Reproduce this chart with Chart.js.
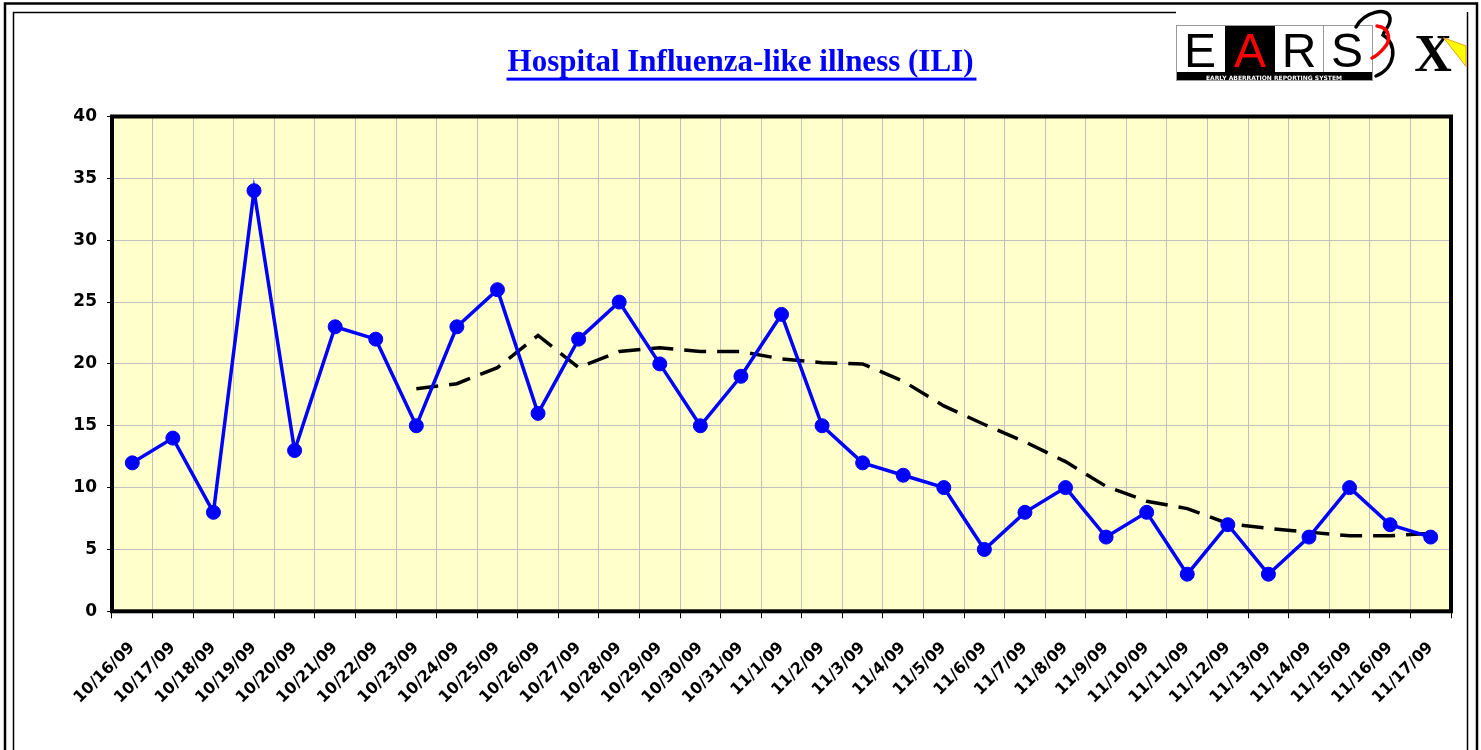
<!DOCTYPE html>
<html>
<head>
<meta charset="utf-8">
<script src="https://cdn.jsdelivr.net/npm/chart.js@4"></script>
<style>
  body { margin: 0; background: #fff; }
  canvas { display: block; }
</style>
</head>
<body>
<canvas id="myChart" width="1481" height="750"></canvas>
<script>
// dates on the x axis
const dates = ['10/16/09', '10/17/09', '10/18/09', '10/19/09', '10/20/09', '10/21/09', '10/22/09',
    '10/23/09', '10/24/09', '10/25/09', '10/26/09', '10/27/09', '10/28/09', '10/29/09', '10/30/09',
    '10/31/09', '11/1/09', '11/2/09', '11/3/09', '11/4/09', '11/5/09', '11/6/09', '11/7/09',
    '11/8/09', '11/9/09', '11/10/09', '11/11/09', '11/12/09', '11/13/09', '11/14/09', '11/15/09',
    '11/16/09', '11/17/09'];

// daily ILI counts (blue line)
const iliCounts = [12, 14, 8, 34, 13, 23, 22, 15, 23, 26, 16, 22, 25, 20, 15, 19, 24, 15, 12, 11,
    10, 5, 8, 10, 6, 8, 3, 7, 3, 6, 10, 7, 6];

// dashed baseline line, starts on 10/23
const baseline = [null, null, null, null, null, null, null, 18.0, 18.4, 19.7, 22.3, 19.7, 21.0,
    21.3, 21.0, 21.0, 20.4, 20.1, 20.0, 18.6, 16.6, 15.1, 13.7, 12.1, 10.1, 8.9, 8.3, 7.1, 6.7,
    6.4, 6.1, 6.1, 6.3];

const yTicks = [0, 5, 10, 15, 20, 25, 30, 35, 40];

const titleText = 'Hospital Influenza-like illness (ILI)';

// page frame, plot background and plot border, logo
const framePlugin = {
    id: 'frame',
    beforeDraw(chart) {
        const c = chart.ctx;
        const a = chart.chartArea;
        c.save();
        c.fillStyle = '#fff';
        c.fillRect(0, 0, chart.width, chart.height);
        c.strokeStyle = '#000';
        c.lineWidth = 2.5;
        c.beginPath();
        c.moveTo(5, 750); c.lineTo(5, 3.5); c.lineTo(1477, 3.5); c.lineTo(1477, 750);
        c.stroke();
        c.lineWidth = 1.5;
        c.beginPath();
        c.moveTo(13.5, 750); c.lineTo(13.5, 12.5); c.lineTo(1176, 12.5);
        c.moveTo(1467.5, 12); c.lineTo(1467.5, 750);
        c.stroke();
        c.fillStyle = '#FFFFCC';
        c.fillRect(a.left, a.top, a.right - a.left, a.bottom - a.top);
        c.restore();
    },
    beforeDatasetsDraw(chart) {
        const c = chart.ctx;
        const a = chart.chartArea;
        c.save();
        c.strokeStyle = '#000';
        c.lineWidth = 4;
        c.strokeRect(a.left, a.top, a.right - a.left, a.bottom - a.top);
        c.restore();
    },
    afterDraw(chart) {
        const c = chart.ctx;
        const t = chart.titleBlock;
        c.save();
        // title underline
        c.font = 'bold 31px "Liberation Serif"';
        const w = c.measureText(titleText).width;
        const cx = (t.left + t.right) / 2;
        c.fillStyle = '#0000FF';
        c.fillRect(cx - w / 2 - 1, t.top + 44 + 18.6 + 15, w + 4, 3);

        // EARS logo
        c.fillStyle = '#fff';
        c.fillRect(1176, 25, 197, 47);
        c.fillStyle = '#000';
        c.fillRect(1225, 25, 50, 47);
        c.fillRect(1176, 72, 197, 9);
        c.strokeStyle = '#999';
        c.lineWidth = 1;
        c.strokeRect(1176.5, 25.5, 196, 55);
        c.beginPath();
        c.moveTo(1323.5, 25); c.lineTo(1323.5, 72);
        c.stroke();
        c.font = '48px "Liberation Sans"';
        c.textAlign = 'center';
        c.textBaseline = 'alphabetic';
        c.fillStyle = '#000';
        c.fillText('E', 1200, 67);
        c.fillText('R', 1299, 67);
        c.fillText('S', 1347, 67);
        c.fillStyle = '#FF0000';
        c.fillText('A', 1250, 67);
        c.fillStyle = '#fff';
        c.font = 'bold 6px "DejaVu Sans"';
        c.fillText('EARLY ABERRATION REPORTING SYSTEM', 1274, 79.5);
        // swoosh
        c.lineCap = 'round';
        c.strokeStyle = '#000';
        c.lineWidth = 3.5;
        c.beginPath();
        c.moveTo(1356, 27);
        c.bezierCurveTo(1364, 12, 1388, 6, 1390, 18);
        c.bezierCurveTo(1391, 26, 1384, 30, 1383, 35);
        c.bezierCurveTo(1398, 44, 1396, 68, 1376, 76);
        c.stroke();
        c.strokeStyle = '#FF0000';
        c.lineWidth = 3.5;
        c.beginPath();
        c.moveTo(1377, 26);
        c.bezierCurveTo(1392, 28, 1390, 42, 1384, 48);
        c.bezierCurveTo(1380, 53, 1376, 56, 1372, 58);
        c.stroke();
        // X and yellow beam
        c.fillStyle = '#000';
        c.font = 'bold 52px "Liberation Serif"';
        c.fillText('X', 1433, 71);
        c.fillStyle = '#FFFF00';
        c.strokeStyle = '#F0A000';
        c.lineWidth = 1;
        c.beginPath();
        c.moveTo(1444, 38); c.lineTo(1466, 46); c.lineTo(1466, 66); c.closePath();
        c.fill();
        c.stroke();
        c.restore();
    }
};

const ctx = document.getElementById('myChart');

new Chart(ctx, {
    type: 'line',
    data: {
        labels: dates,
        datasets: [{
            label: 'ILI',
            data: iliCounts,
            borderColor: '#0000FF',
            backgroundColor: '#0000FF',
            borderWidth: 3.5,
            pointRadius: 7,
            pointBorderWidth: 1,
            pointBackgroundColor: '#0000FF',
            pointBorderColor: '#0000FF',
            tension: 0
        }, {
            label: 'Baseline',
            data: baseline,
            borderColor: '#000',
            borderWidth: 3.5,
            borderDash: [22, 11],
            pointRadius: 0,
            fill: false,
            tension: 0
        }]
    },
    options: {
        responsive: false,
        animation: false,
        events: [],
        layout: {
            padding: { left: 0, right: 0, top: 0, bottom: 0 }
        },
        scales: {
            x: {
                offset: true,
                grid: {
                    offset: true,
                    color: '#C0C0C0',
                    lineWidth: 1,
                    tickColor: '#000',
                    tickLength: 7
                },
                border: { display: false },
                ticks: {
                    autoSkip: false,
                    minRotation: 45,
                    maxRotation: 45,
                    padding: 20,
                    color: '#000',
                    font: { family: 'DejaVu Sans', size: 16, weight: 'bold' }
                },
                afterFit(scale) { scale.height = 138.7; }
            },
            y: {
                min: 0,
                max: 40,
                afterBuildTicks(scale) { scale.ticks = yTicks.map(v => ({ value: v })); },
                grid: {
                    color: '#C0C0C0',
                    lineWidth: 1,
                    tickColor: '#000',
                    tickLength: 5
                },
                border: { display: false },
                ticks: {
                    padding: 10,
                    color: '#000',
                    font: { family: 'DejaVu Sans', size: 17, weight: 'bold' }
                },
                afterFit(scale) { scale.width = 112; }
            },
            y2: {
                position: 'right',
                display: true,
                grid: { display: false },
                border: { display: false },
                ticks: { display: false },
                afterFit(scale) { scale.width = 30; }
            }
        },
        plugins: {
            legend: {
                display: false
            },
            tooltip: {
                enabled: false
            },
            title: {
                display: true,
                text: titleText,
                color: '#0000FF',
                font: { family: 'Liberation Serif', size: 31, weight: 'bold' },
                padding: { top: 44, bottom: 35.3 }
            }
        }
    },
    plugins: [framePlugin]
});
</script>
</body>
</html>
